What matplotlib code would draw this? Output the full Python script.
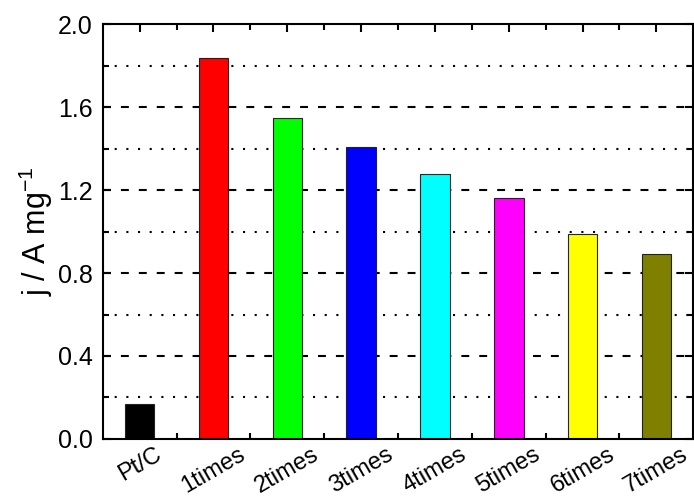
import matplotlib.pyplot as plt
import numpy as np

plt.rcParams['font.family'] = ['Liberation Sans', 'DejaVu Sans']
plt.rcParams['mathtext.fontset'] = 'custom'
plt.rcParams['mathtext.rm'] = 'Liberation Sans'
plt.rcParams['mathtext.it'] = 'Liberation Sans'
plt.rcParams['mathtext.default'] = 'regular'

# Data
labels = ['Pt/C', '1times', '2times', '3times', '4times', '5times', '6times', '7times']
values = [0.17, 1.84, 1.55, 1.41, 1.28, 1.16, 0.99, 0.89]
colors = ['#000000', '#FF0000', '#00FF00', '#0000FF', '#00FFFF', '#FF00FF', '#FFFF00', '#808000']

fig = plt.figure(figsize=(6.94, 4.97), dpi=100)
ax = fig.add_axes([0.148, 0.117, 0.851, 0.834])

x = np.arange(len(labels))

# grid lines: dashed at major, dotted at minor
for y in [0.4, 0.8, 1.2, 1.6]:
    ax.axhline(y, color='black', lw=1.5, ls=(0, (3.8, 4.8)), zorder=1)
for y in [0.2, 0.6, 1.0, 1.4, 1.8]:
    ax.axhline(y, color='black', lw=1.5, ls=(0, (1, 4.6)), zorder=1)

ax.bar(x, values, width=0.4, color=colors, edgecolor='#222222', linewidth=0.8, zorder=2)

ax.set_xlim(-0.5, 7.5)
ax.set_ylim(0, 2.0)
ax.set_yticks([0.0, 0.4, 0.8, 1.2, 1.6, 2.0])
ax.set_yticklabels(['0.0', '0.4', '0.8', '1.2', '1.6', '2.0'])
ax.set_yticks([0.2, 0.6, 1.0, 1.4, 1.8], minor=True)
ax.set_xticks(x)
ax.set_xticklabels(labels, rotation=30, ha='center', fontsize=17)
ax.set_xticks(x[:-1] + 0.5, minor=True)

ax.tick_params(axis='both', which='major', direction='in', length=6, width=1.5,
               top=True, right=True)
ax.tick_params(axis='y', which='major', labelsize=18, pad=7)
ax.tick_params(axis='both', which='minor', direction='in', length=4, width=1.5,
               top=True, right=True)
ax.tick_params(axis='x', which='major', pad=3)

for s in ax.spines.values():
    s.set_linewidth(1.5)
    s.set_zorder(5)

ax.set_ylabel('j / A mg$^{-1}$', fontsize=22, labelpad=2)

fig.savefig('out.png', dpi=100)
